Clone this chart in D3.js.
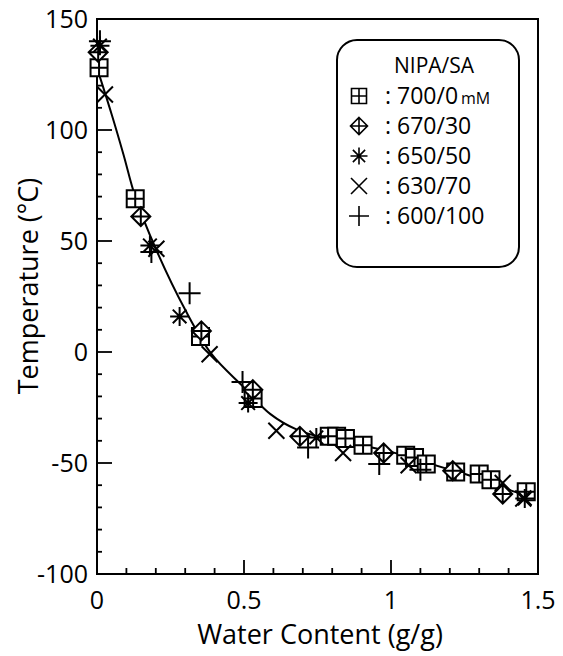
<!DOCTYPE html>
<html>
<head>
<meta charset="utf-8">
<script src="https://cdn.jsdelivr.net/npm/d3@7"></script>
<style>
  body { margin: 0; background: #fff; }
  text { font-family: "Open Sans", "Noto Sans", sans-serif; fill: #000; }
</style>
</head>
<body>
<svg id="chart" width="563" height="656"></svg>
<script>
// data
const sqX = [0.007, 0.13, 0.352, 0.531, 0.79, 0.815, 0.845, 0.905, 1.05, 1.08, 1.12, 1.22, 1.30, 1.34, 1.46];
const sqY = [128, 69, 7, -21, -38, -38, -39, -42, -46.5, -47.5, -50.5, -54, -55, -57.5, -63];

const diaX = [0.004, 0.149, 0.355, 0.53, 0.69, 0.975, 1.21, 1.38];
const diaY = [135, 61, 9.5, -17, -38, -45.5, -53.5, -64];

const starX = [0.01, 0.18, 0.281, 0.514, 0.746, 1.455];
const starY = [138, 48, 16, -23, -38.5, -66];

const crossX = [0.027, 0.202, 0.383, 0.61, 0.837, 1.06, 1.38, 1.45];
const crossY = [116, 46.5, -1, -35.5, -45.5, -51, -59, -66];

const plusX = [0.01, 0.185, 0.315, 0.495, 0.718, 0.96, 1.10];
const plusY = [140, 45, 26.5, -13.5, -43, -50.5, -53];

// fitted curve
const fitX = [0, 0.05, 0.09, 0.13, 0.2, 0.3, 0.39, 0.5, 0.59, 0.68, 0.78, 0.9, 1.0, 1.1, 1.2, 1.3, 1.4, 1.47];
const fitY = [128, 107, 89, 70, 46.5, 19, -1, -16, -28, -35, -39, -42, -45, -49, -53, -57, -62, -65];

const xTicks = [0, 0.5, 1, 1.5];
const yTicks = [-100, -50, 0, 50, 100, 150];

const legendLabels = ["700/0", "670/30", "650/50", "630/70", "600/100"];

const svg = d3.select("#chart");
const plotL = 97, plotR = 538, plotT = 19, plotB = 574;

const x = d3.scaleLinear().domain([0, 1.5]).range([plotL, plotR]);
const y = d3.scaleLinear().domain([-100, 150]).range([plotB, plotT]);

// frame
svg.append("rect")
  .attr("x", plotL).attr("y", plotT)
  .attr("width", plotR - plotL).attr("height", plotB - plotT)
  .attr("fill", "none").attr("stroke", "#000").attr("stroke-width", 2);

// inward ticks
const g = svg.append("g").attr("stroke", "#000").attr("stroke-width", 1.8);
d3.range(0, 1.5001, 0.1).forEach(v => {
  const major = Math.abs(v / 0.5 - Math.round(v / 0.5)) < 1e-6;
  g.append("line").attr("x1", x(v)).attr("x2", x(v))
    .attr("y1", plotB).attr("y2", plotB - (major ? 14 : 6));
});
d3.range(-100, 150.001, 10).forEach(v => {
  const major = v % 50 === 0;
  g.append("line").attr("y1", y(v)).attr("y2", y(v))
    .attr("x1", plotL).attr("x2", plotL + (major ? 15 : 5));
});

// tick labels
svg.append("g").selectAll("text").data(xTicks).join("text")
  .attr("x", d => x(d)).attr("y", 609)
  .attr("text-anchor", "middle").attr("font-size", 25)
  .text(d => d);
svg.append("g").selectAll("text").data(yTicks).join("text")
  .attr("x", 88).attr("y", d => y(d) + 9)
  .attr("text-anchor", "end").attr("font-size", 25)
  .text(d => d);

// axis titles
svg.append("text").attr("x", 320).attr("y", 644)
  .attr("text-anchor", "middle").attr("font-size", 27)
  .text("Water Content (g/g)");
svg.append("text")
  .attr("transform", "translate(38,286) rotate(-90)")
  .attr("text-anchor", "middle").attr("font-size", 27)
  .text("Temperature (\u00B0C)");

// curve
const fit = fitX.map((d, i) => [d, fitY[i]]);
svg.append("path")
  .attr("d", d3.line().x(d => x(d[0])).y(d => y(d[1])).curve(d3.curveCatmullRom.alpha(0.5))(fit))
  .attr("fill", "none").attr("stroke", "#000").attr("stroke-width", 2);

// marker shapes
function squareGrid(s) {
  const h = s / 2;
  return `M${-h},${-h}H${h}V${h}H${-h}Z M0,${-h}V${h} M${-h},0H${h}`;
}
function diamondPlus(s) {
  const h = s / 2;
  return `M0,${-h}L${h},0L0,${h}L${-h},0Z M0,${-h}V${h} M${-h},0H${h}`;
}
function asterisk(s) {
  const h = s / 2, d = h * 0.72;
  return `M0,${-h}V${h} M${-h},0H${h} M${-d},${-d}L${d},${d} M${-d},${d}L${d},${-d}`;
}
function xMark(s) {
  const h = s / 2;
  return `M${-h},${-h}L${h},${h} M${-h},${h}L${h},${-h}`;
}
function plus(s) {
  const h = s / 2;
  return `M0,${-h}V${h} M${-h},0H${h}`;
}

const series = [
  { xs: sqX, ys: sqY, shape: squareGrid, size: 17, fill: "#fff" },
  { xs: diaX, ys: diaY, shape: diamondPlus, size: 19, fill: "#fff" },
  { xs: starX, ys: starY, shape: asterisk, size: 19, fill: "none" },
  { xs: crossX, ys: crossY, shape: xMark, size: 16, fill: "none" },
  { xs: plusX, ys: plusY, shape: plus, size: 22, fill: "none" }
];

series.forEach(s => {
  svg.append("g").selectAll("path")
    .data(s.xs.map((d, i) => [d, s.ys[i]]))
    .join("path")
    .attr("transform", d => `translate(${x(d[0])},${y(d[1])})`)
    .attr("d", s.shape(s.size))
    .attr("fill", s.fill)
    .attr("stroke", "#000").attr("stroke-width", 2);
});

// legend
const lg = svg.append("g");
lg.append("rect")
  .attr("x", 337).attr("y", 40).attr("width", 182).attr("height", 227)
  .attr("rx", 20).attr("ry", 20)
  .attr("fill", "#fff").attr("stroke", "#000").attr("stroke-width", 2);
lg.append("text").attr("x", 434).attr("y", 73)
  .attr("text-anchor", "middle").attr("font-size", 21)
  .text("NIPA/SA");

const legendSizes = [15, 17, 17, 16, 20];
legendLabels.forEach((lab, i) => {
  const cy = 96 + i * 30;
  lg.append("path")
    .attr("transform", `translate(359,${cy})`)
    .attr("d", series[i].shape(legendSizes[i]))
    .attr("fill", "none").attr("stroke", "#000").attr("stroke-width", 1.6);
  lg.append("text").attr("x", 388).attr("y", cy + 8)
    .attr("text-anchor", "middle").attr("font-size", 23).text(":");
  const t = lg.append("text").attr("x", 397).attr("y", cy + 8).attr("font-size", 23);
  t.append("tspan").text(lab);
  if (i === 0) t.append("tspan").attr("font-size", 16).attr("dx", 3).text("mM");
});
</script>
</body>
</html>
